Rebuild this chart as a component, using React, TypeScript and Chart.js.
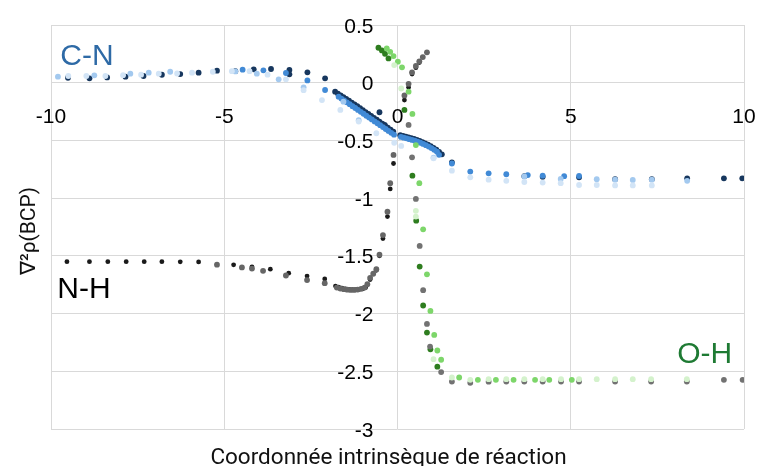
import React, { useEffect, useRef } from 'react';
import { Chart, registerables } from 'chart.js';

Chart.register(...registerables);

// ---------- tick values / labels ----------
const xTicks = [-10, -5, 0, 5, 10];
const xTickLabels = ['-10', '-5', '0', '5', '10'];
const yTicks = [0.5, 0, -0.5, -1, -1.5, -2, -2.5, -3];
const yTickLabels = ['0.5', '0', '-0.5', '-1', '-1.5', '-2', '-2.5', '-3'];

const xTitle = 'Coordonnée intrinsèque de réaction';
const yTitle = '∇²ρ(BCP)';

// ---------- C-N series ----------
const cnNavyX = [-9.51, -8.89, -8.38, -7.85, -7.33, -6.80, -6.27, -5.74, -5.21, -4.68, -4.15, -3.65, -3.12, -3.12, -2.60, -2.09,
  -1.80, -1.72, -1.64, -1.56, -1.48, -1.40, -1.32, -1.24, -1.16, -1.08, -1.00, -0.92, -0.84, -0.76, -0.68, -0.60, -0.52, -0.44, -0.36, -0.28, -0.20, -0.12,
  -0.52, -0.37,
  0.08, 0.16, 0.24, 0.32, 0.40, 0.48, 0.56, 0.64, 0.72, 0.80, 0.88, 0.96, 1.04, 1.12, 1.20, 1.28,
  1.57, 3.66, 4.19, 5.24, 6.28, 7.34, 8.36, 9.42, 9.95];
const cnNavyY = [0.043, 0.038, 0.046, 0.052, 0.058, 0.069, 0.075, 0.087, 0.104, 0.100, 0.116, 0.119, 0.110, 0.073, 0.090, 0.038,
  -0.078, -0.094, -0.109, -0.125, -0.141, -0.156, -0.172, -0.188, -0.203, -0.220, -0.237, -0.254, -0.271, -0.288, -0.305, -0.321, -0.338, -0.355, -0.372, -0.389, -0.406, -0.424,
  -0.256, -0.366,
  -0.455, -0.461, -0.467, -0.473, -0.480, -0.487, -0.495, -0.504, -0.514, -0.525, -0.537, -0.550, -0.564, -0.580, -0.599, -0.620,
  -0.690, -0.810, -0.815, -0.820, -0.836, -0.836, -0.828, -0.828, -0.828];

const cnMediumX = [-4.47, -3.87, -3.22, -2.60, -2.09,
  -1.70, -1.62, -1.54, -1.46, -1.38, -1.30, -1.22, -1.14, -1.06, -0.98, -0.90, -0.82, -0.74, -0.66, -0.58, -0.50, -0.42, -0.34, -0.26, -0.18, -0.10,
  0.10, 0.18, 0.26, 0.34, 0.42, 0.50, 0.58, 0.66, 0.74, 0.82, 0.90, 0.98, 1.06, 1.14, 1.20,
  1.57, 2.10, 2.63, 3.14, 3.76, 4.19, 4.81, 5.24];
const cnMediumY = [0.113, 0.107, 0.084, 0.020, -0.063,
  -0.121, -0.137, -0.153, -0.170, -0.186, -0.203, -0.219, -0.236, -0.252, -0.269, -0.286, -0.302, -0.318, -0.335, -0.351, -0.368, -0.384, -0.401, -0.418, -0.434, -0.450,
  -0.470, -0.476, -0.482, -0.489, -0.496, -0.503, -0.511, -0.520, -0.530, -0.541, -0.553, -0.566, -0.581, -0.598, -0.625,
  -0.700, -0.770, -0.785, -0.793, -0.800, -0.805, -0.810, -0.808];

const cnLightX = [-9.80, -8.75, -7.71, -7.18, -6.56, -4.68, -4.06, -3.43, -2.71, -1.56, -1.12, 1.04, 3.66, 4.71, 5.75, 6.28, 6.79, 7.34, 8.36];
const cnLightY = [0.052, 0.064, 0.078, 0.087, 0.095, 0.098, 0.078, 0.029, -0.040, -0.164, -0.325, -0.649, -0.812, -0.834, -0.836, -0.840, -0.842, -0.840, -0.850];

const cnPaleX = [-9.50, -8.98, -8.43, -7.92, -7.40, -6.89, -6.36, -5.93, -5.33, -4.78, -4.27, -3.75, -3.22, -2.71, -2.18, -1.65, -1.12, -0.61, -0.095, 0.107,
  1.04, 1.57, 2.10, 2.63, 3.14, 3.66, 4.19, 4.71, 5.24, 5.75, 6.28, 6.79, 7.34];
const cnPaleY = [0.058, 0.058, 0.058, 0.065, 0.070, 0.078, 0.080, 0.087, 0.095, 0.100, 0.100, 0.070, 0.029, -0.065, -0.150, -0.236, -0.337, -0.438, -0.520, -0.548,
  -0.655, -0.762, -0.820, -0.840, -0.850, -0.860, -0.865, -0.870, -0.886, -0.886, -0.890, -0.890, -0.890];

// ---------- N-H series ----------
const nhBlackX = [-9.54, -8.89, -8.36, -7.83, -7.31, -6.80, -6.27, -5.74, -4.73, -4.20, -3.67, -3.14, -2.61, -2.10,
  -1.79, -1.70, -1.60, -1.50, -1.40, -1.30, -1.20, -1.10, -1.00, -0.92, -0.79, -0.61, -0.52, -0.42, -0.29, -0.21, -0.115,
  0.20, 0.32, 0.42, 0.53, 0.63];
const nhBlackY = [-1.550, -1.550, -1.550, -1.550, -1.550, -1.550, -1.552, -1.553, -1.578, -1.595, -1.615, -1.650, -1.675, -1.700,
  -1.762, -1.772, -1.780, -1.786, -1.790, -1.792, -1.792, -1.790, -1.785, -1.775, -1.705, -1.625, -1.500, -1.350, -1.160, -0.920, -0.700,
  -0.150, -0.040, 0.075, 0.130, 0.175];

const nhGreyX = [-5.21, -4.49, -4.20, -3.88, -3.22, -2.61, -2.10,
  -1.75, -1.65, -1.55, -1.45, -1.35, -1.25, -1.15, -1.05, -0.95, -0.87, -0.79, -0.70, -0.61, -0.52, -0.42, -0.29, -0.21, -0.115,
  0.20, 0.32, 0.42, 0.53, 0.63, 0.73, 0.85];
const nhGreyY = [-1.576, -1.600, -1.610, -1.630, -1.670, -1.710, -1.737,
  -1.775, -1.783, -1.789, -1.793, -1.795, -1.795, -1.792, -1.786, -1.775, -1.745, -1.690, -1.655, -1.615, -1.490, -1.320, -1.117, -0.870, -0.626,
  -0.110, -0.010, 0.090, 0.145, 0.185, 0.222, 0.263];

// ---------- O-H series ----------
const ohGreyX = [0.32, 0.42, 0.53, 0.64, 0.74, 0.85, 0.94, 1.26, 1.57, 2.10, 2.63, 3.14, 3.66, 4.19, 4.72, 5.24, 6.28, 7.32, 8.35, 9.42, 9.96];
const ohGreyY = [-0.366, -0.646, -1.007, -1.414, -1.797, -2.090, -2.286, -2.507, -2.589, -2.600, -2.590, -2.589, -2.589, -2.589, -2.589, -2.589, -2.589, -2.589, -2.589, -2.574, -2.574];

const ohDarkX = [-0.55, -0.45, -0.36, -0.26, 0.20, 0.43, 0.54, 0.64, 0.74, 0.85, 0.95, 1.15];
const ohDarkY = [0.303, 0.280, 0.250, 0.210, -0.236, -0.805, -1.195, -1.593, -1.930, -2.165, -2.310, -2.460];

const ohLightX = [-0.31, -0.21, -0.115, 0.01, 0.13, 0.32, 0.43, 0.53, 0.63, 0.74, 0.85, 0.95, 1.06, 1.15, 1.26, 1.78, 2.32, 2.84, 3.35, 3.97, 4.38, 5.03];
const ohLightY = [0.298, 0.268, 0.231, 0.182, 0.133, -0.078, -0.270, -0.540, -0.870, -1.270, -1.660, -1.977, -2.185, -2.320, -2.400, -2.554, -2.574, -2.574, -2.574, -2.574, -2.574, -2.574];

const ohPaleX = [-0.095, 0.107, 0.53, 0.53, 1.04, 1.57, 2.10, 2.63, 3.14, 3.66, 4.19, 4.72, 5.24, 5.75, 6.28, 6.79, 7.32, 8.35];
const ohPaleY = [0.153, -0.050, -1.110, -1.160, -2.395, -2.554, -2.574, -2.568, -2.568, -2.568, -2.568, -2.568, -2.568, -2.568, -2.568, -2.568, -2.568, -2.568];

// ---------- annotations (data coordinates) ----------
const labelTexts = ['C-N', 'N-H', 'O-H'];
const labelX = [-9.73, -9.82, 8.07];
const labelY = [0.153, -1.864, -2.427];
const labelColors = ['#2e6aa6', '#000000', '#1e7a33'];

const zip = (xs: number[], ys: number[]) => xs.map((x, i) => ({ x, y: ys[i] }));

const overlayPlugin = {
  id: 'overlayText',
  beforeDatasetsDraw(chart: any) {
    const { ctx, scales } = chart;
    const xs = scales.x;
    const ys = scales.y;
    const y0 = ys.getPixelForValue(0);
    const x0 = xs.getPixelForValue(0);
    ctx.save();
    ctx.font = '21px "Liberation Sans", Arial, sans-serif';
    ctx.fillStyle = '#000000';
    ctx.textBaseline = 'alphabetic';
    ctx.textAlign = 'center';
    xTicks.forEach((v, i) => {
      ctx.fillText(xTickLabels[i], xs.getPixelForValue(v), y0 + 40);
    });
    ctx.textAlign = 'right';
    yTicks.forEach((v, i) => {
      ctx.fillText(yTickLabels[i], x0 - 24, ys.getPixelForValue(v) + 7.6);
    });
    ctx.restore();
  },
  afterDraw(chart: any) {
    const { ctx, scales, chartArea } = chart;
    const xs = scales.x;
    const ys = scales.y;
    ctx.save();
    ctx.font = '30px "Liberation Sans", Arial, sans-serif';
    ctx.textAlign = 'left';
    ctx.textBaseline = 'alphabetic';
    labelTexts.forEach((t, i) => {
      ctx.fillStyle = labelColors[i];
      ctx.fillText(t, xs.getPixelForValue(labelX[i]), ys.getPixelForValue(labelY[i]));
    });
    ctx.fillStyle = '#111111';
    ctx.font = '22.5px Roboto, "Noto Sans", sans-serif';
    ctx.textAlign = 'center';
    ctx.fillText(xTitle, (chartArea.left + chartArea.right) / 2 - 9, 464);
    ctx.font = '21px Roboto, "Noto Sans", sans-serif';
    ctx.translate(35, (chartArea.top + chartArea.bottom) / 2 + 4);
    ctx.rotate(-Math.PI / 2);
    ctx.fillText(yTitle, 0, 0);
    ctx.restore();
  },
};

const mk = (label: string, xs: number[], ys: number[], color: string, r: number) => ({
  label,
  data: zip(xs, ys),
  backgroundColor: color,
  borderColor: color,
  borderWidth: 0,
  pointRadius: r,
  pointHoverRadius: r,
  showLine: false,
});

export default function App() {
  const ref = useRef<HTMLCanvasElement | null>(null);
  useEffect(() => {
    if (!ref.current) return;
    const chart = new Chart(ref.current, {
      type: 'scatter',
      data: {
        datasets: [
          mk('C-N pale', cnPaleX, cnPaleY, '#d2e4f6', 2.9),
          mk('C-N light', cnLightX, cnLightY, '#a3c9ef', 2.9),
          mk('O-H pale', ohPaleX, ohPaleY, '#d4f2cc', 2.9),
          mk('O-H grey', ohGreyX, ohGreyY, '#727272', 2.9),
          mk('O-H light', ohLightX, ohLightY, '#7dd66a', 2.9),
          mk('O-H dark', ohDarkX, ohDarkY, '#2e7d1f', 2.9),
          mk('N-H grey', nhGreyX, nhGreyY, '#666666', 2.9),
          mk('N-H black', nhBlackX, nhBlackY, '#1a1a1a', 2.4),
          mk('C-N medium', cnMediumX, cnMediumY, '#418ad6', 2.9),
          mk('C-N navy', cnNavyX, cnNavyY, '#17375e', 2.9),
        ],
      },
      options: {
        animation: false,
        responsive: false,
        layout: { padding: { left: 51, top: 25, right: 14, bottom: 37 } },
        plugins: { legend: { display: false }, tooltip: { enabled: false }, title: { display: false } },
        scales: {
          x: {
            type: 'linear',
            min: -10,
            max: 10,
            afterBuildTicks: (s: any) => { s.ticks = xTicks.map((v) => ({ value: v })); },
            ticks: { display: false },
            grid: { color: '#d9d9d9', lineWidth: 1, drawTicks: false },
            border: { display: false },
          },
          y: {
            type: 'linear',
            min: -3,
            max: 0.5,
            afterBuildTicks: (s: any) => { s.ticks = yTicks.map((v) => ({ value: v })); },
            ticks: { display: false },
            grid: { color: '#d9d9d9', lineWidth: 1, drawTicks: false },
            border: { display: false },
          },
        },
      },
      plugins: [overlayPlugin],
    });
    return () => chart.destroy();
  }, []);
  return (
    <div style={{ position: 'absolute', left: 0, top: 0, width: 758, height: 466, background: '#ffffff' }}>
      <canvas ref={ref} width={758} height={466} style={{ display: 'block' }} />
    </div>
  );
}
